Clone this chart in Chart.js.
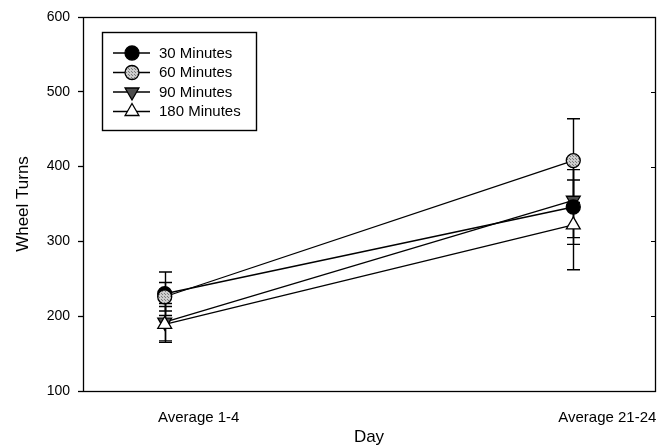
<!DOCTYPE html>
<html>
<head>
<meta charset="utf-8">
<script src="https://cdn.jsdelivr.net/npm/chart.js@4.4.0/dist/chart.umd.min.js"></script>
<style>
  html, body { margin: 0; padding: 0; background: #fff; }
</style>
</head>
<body>
<canvas id="wheelChart" width="665" height="448"></canvas>
<script>
// Wheel turns per session length, early vs late days
const dayLabels  = ['Average 1-4', 'Average 21-24'];
const groupNames = ['30 Minutes', '60 Minutes', '90 Minutes', '180 Minutes'];

const mean30  = [230, 346];
const mean60  = [226, 408];
const mean90  = [192, 355];
const mean180 = [189, 322];

const err30  = [29, 50];
const err60  = [19, 56];
const err90  = [25, 50];
const err180 = [24, 60];

const yTicks = [100, 200, 300, 400, 500, 600];

const FONT = "'Liberation Sans', Arial, sans-serif";

function stipple() {
  const c = document.createElement('canvas');
  c.width = 3; c.height = 3;
  const g = c.getContext('2d');
  g.fillStyle = '#cdcdcd';
  g.fillRect(0, 0, 3, 3);
  g.fillStyle = '#7c7c7c';
  g.fillRect(0, 0, 1, 1);
  g.fillRect(2, 2, 1, 1);
  return g.createPattern(c, 'repeat');
}

// marker look per group; `layer` = draw order (lower sits on top)
const styles = [
  { pointStyle: 'circle',   rotation: 0,   radius: 7, fill: '#000',     layer: 2 },
  { pointStyle: 'circle',   rotation: 0,   radius: 7, fill: stipple(),  layer: 0 },
  { pointStyle: 'triangle', rotation: 180, radius: 8, fill: '#4d4d4d',  layer: 3 },
  { pointStyle: 'triangle', rotation: 0,   radius: 8, fill: '#fff',     layer: 1 },
];

const means  = [mean30, mean60, mean90, mean180];
const errors = [err30, err60, err90, err180];

const datasets = groupNames.map((name, i) => ({
  label: name,
  data: means[i].map((v, j) => ({ x: j, y: v })),
  errors: errors[i],
  order: styles[i].layer,
  borderColor: '#000',
  borderWidth: 1.3,
  pointStyle: styles[i].pointStyle,
  pointRotation: styles[i].rotation,
  pointRadius: styles[i].radius,
  pointBackgroundColor: styles[i].fill,
  pointBorderColor: '#000',
  pointBorderWidth: 1.3,
  fill: false,
  tension: 0,
}));

// vertical error bars with caps, under the markers
const errorBars = {
  id: 'errorBars',
  beforeDatasetsDraw(chart) {
    const { ctx, scales: { x, y } } = chart;
    ctx.save();
    ctx.strokeStyle = '#000';
    ctx.lineWidth = 1.4;
    chart.data.datasets.forEach(ds => {
      ds.data.forEach((p, j) => {
        const e = ds.errors[j];
        const px = Math.round(x.getPixelForValue(p.x)) + 0.5;
        const top = y.getPixelForValue(p.y + e);
        const bot = y.getPixelForValue(p.y - e);
        ctx.beginPath();
        ctx.moveTo(px, top); ctx.lineTo(px, bot);
        ctx.moveTo(px - 6.5, top); ctx.lineTo(px + 6.5, top);
        ctx.moveTo(px - 6.5, bot); ctx.lineTo(px + 6.5, bot);
        ctx.stroke();
      });
    });
    ctx.restore();
  }
};

// frame around the plot, inner ticks on the right side, boxed legend
const frameAndLegend = {
  id: 'frameAndLegend',
  afterDraw(chart) {
    const { ctx, chartArea: a, scales: { y } } = chart;
    ctx.save();
    ctx.strokeStyle = '#000';
    ctx.lineWidth = 1.3;
    ctx.strokeRect(a.left + 0.5, a.top + 0.5, a.right - a.left, a.bottom - a.top);

    ctx.lineWidth = 1;
    yTicks.forEach(v => {
      const py = Math.round(y.getPixelForValue(v)) + 0.5;
      ctx.beginPath();
      ctx.moveTo(a.right - 4, py); ctx.lineTo(a.right, py);
      ctx.stroke();
    });

    // legend
    ctx.lineWidth = 1.4;
    ctx.strokeRect(102.5, 32.5, 154, 98);
    const rows = [53, 72.5, 92, 111.5];
    chart.data.datasets.forEach((ds, i) => {
      const ly = rows[i];
      ctx.lineWidth = 1.3;
      ctx.strokeStyle = '#000';
      ctx.beginPath();
      ctx.moveTo(113, ly); ctx.lineTo(150, ly);
      ctx.stroke();
      ctx.fillStyle = ds.pointBackgroundColor;
      Chart.helpers.drawPoint(ctx, {
        pointStyle: ds.pointStyle,
        rotation: ds.pointRotation,
        radius: ds.pointRadius,
        borderWidth: 1.3,
      }, 132, ly);
      ctx.fillStyle = '#000';
      ctx.font = `15px ${FONT}`;
      ctx.textBaseline = 'middle';
      ctx.textAlign = 'left';
      ctx.fillText(ds.label, 159, ly + 0.5);
    });
    ctx.restore();
  }
};

new Chart(document.getElementById('wheelChart'), {
  type: 'line',
  data: { datasets },
  plugins: [errorBars, frameAndLegend],
  options: {
    responsive: false,
    animation: false,
    layout: { padding: { top: 17, right: 10, left: 0, bottom: 0 } },
    plugins: { legend: { display: false }, tooltip: { enabled: false } },
    scales: {
      x: {
        type: 'linear',
        min: -0.2,
        max: 1.2,
        afterBuildTicks: s => { s.ticks = dayLabels.map((_, i) => ({ value: i })); },
        afterFit: s => { s.height = 57; },
        grid: { display: false, drawTicks: false },
        border: { display: false },
        ticks: {
          callback: v => dayLabels[v],
          labelOffset: 34,
          padding: 18,
          maxRotation: 0,
          autoSkip: false,
          color: '#000',
          font: { family: FONT, size: 15 },
        },
        title: {
          display: true,
          text: 'Day',
          color: '#000',
          font: { family: FONT, size: 17 },
          padding: { top: 0, bottom: 0 },
        },
      },
      y: {
        min: 100,
        max: 600,
        afterBuildTicks: s => { s.ticks = yTicks.map(v => ({ value: v })); },
        afterFit: s => { s.width = 83; },
        grid: { drawOnChartArea: false, drawTicks: true, tickLength: 5, color: '#000', tickWidth: 1.3 },
        border: { display: false },
        ticks: {
          padding: 8,
          color: '#000',
          font: { family: FONT, size: 14 },
        },
        title: {
          display: true,
          text: 'Wheel Turns',
          color: '#000',
          font: { family: FONT, size: 17 },
          padding: { top: 13, bottom: 0 },
        },
      },
    },
  },
});
</script>
</body>
</html>
